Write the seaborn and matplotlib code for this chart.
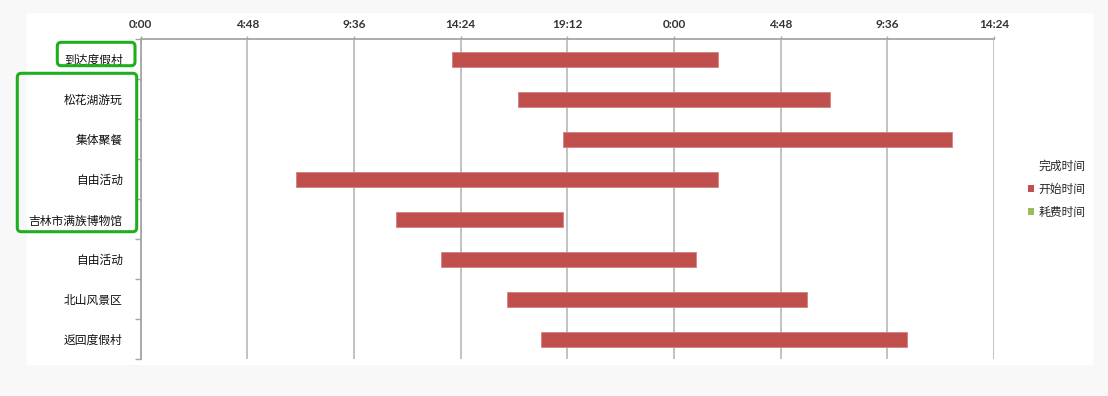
import matplotlib
matplotlib.use("Agg")
import matplotlib.pyplot as plt
import matplotlib.transforms as mtransforms
from matplotlib.patches import Patch, FancyBboxPatch, Rectangle
import seaborn as sns
import numpy as np

# ---- data (hours from 0:00 of day 1) ----
tasks = ["到达度假村", "松花湖游玩", "集体聚餐", "自由活动",
         "吉林市满族博物馆", "自由活动", "北山风景区", "返回度假村"]
start_hours = [14.0, 17.0, 19.0, 7.0, 11.5, 13.5, 16.5, 18.0]
duration_hours = [12.0, 14.0, 17.5, 19.0, 7.5, 11.5, 13.5, 16.5]
tick_hours = [0, 4.8, 9.6, 14.4, 19.2, 24.0, 28.8, 33.6, 38.4]
tick_labels = ["0:00", "4:48", "9:36", "14:24", "19:12", "0:00", "4:48", "9:36", "14:24"]
legend_title = "完成时间"
legend_labels = ["开始时间", "耗费时间"]

RED = "#C0504D"
GREEN = "#9BBB59"
GRID = "#bdbdbd"
AXC = "#a6a6a6"

sns.set_theme(style="white")
plt.rcParams["font.family"] = ["Noto Sans CJK SC", "DejaVu Sans"]

W, H = 1108, 396
fig = plt.figure(figsize=(W / 100, H / 100), dpi=100, facecolor="#f8f8f8")
bg = Rectangle((27 / W, 1 - 365 / H), 1066 / W, 352 / H,
               transform=fig.transFigure, facecolor="white",
               edgecolor="none", zorder=-10)
fig.patches.append(bg)

ax = fig.add_axes([140.7 / W, 1 - 359.3 / H, (994 - 140.7) / W, (359.3 - 39.3) / H])
ax.set_facecolor("white")
ax.set_zorder(1)

ypos = np.arange(len(tasks))
ax.barh(ypos, duration_hours, left=start_hours, height=0.39, color=RED,
        edgecolor="#d4817f", linewidth=0.6, zorder=3)

ax.set_xlim(tick_hours[0], tick_hours[-1])
ax.set_ylim(len(tasks) - 0.5, -0.5)
ax.set_xticks(tick_hours)
ax.set_xticklabels(tick_labels)
ax.xaxis.tick_top()
ax.grid(axis="x", color=GRID, lw=1.3)
ax.grid(axis="y", visible=False)
ax.set_axisbelow(True)

ax.set_yticks(ypos)
ax.set_yticklabels(tasks)
ax.set_yticks(np.arange(len(tasks) + 1) - 0.5, minor=True)
ax.tick_params(axis="y", which="major", left=False, length=0, pad=13,
               labelsize=8.5, labelcolor="#111111")
ax.tick_params(axis="y", which="minor", left=True, length=4, width=1,
               color=AXC, direction="out")
ax.tick_params(axis="x", which="major", top=True, bottom=False, length=2,
               width=1, color=AXC, direction="out", pad=4.5, labelsize=8.5,
               labelcolor="#333333")
for lbl in ax.get_xticklabels():
    lbl.set_fontfamily(["Lato", "DejaVu Sans"])
    lbl.set_fontweight("bold")

for side in ["right", "bottom"]:
    ax.spines[side].set_visible(False)
for side in ["top", "left"]:
    ax.spines[side].set_color(AXC)
    ax.spines[side].set_linewidth(1.3)

handles = [Patch(facecolor=RED, edgecolor="none"),
           Patch(facecolor=GREEN, edgecolor="none")]
fig.legend(handles, legend_labels, title=legend_title, loc="center left",
           bbox_to_anchor=(1028 / W, 1 - 189 / H), frameon=False,
           fontsize=8.5, title_fontsize=8.5, handlelength=0.55,
           handleheight=0.55, handletextpad=0.35, labelspacing=0.85,
           alignment="right", borderaxespad=0, borderpad=0)

# green highlight boxes (pixel coordinates)
ident = mtransforms.IdentityTransform()
boxes = [(57.3, 42.3, 135.0, 65.7), (17.3, 73.3, 136.7, 231.7)]
for x0, y0, x1, y1 in boxes:
    fig.patches.append(FancyBboxPatch((x0, H - y1), x1 - x0, y1 - y0,
                                      boxstyle="round,pad=0,rounding_size=4",
                                      transform=ident, fill=False,
                                      edgecolor="#1fae1f", linewidth=2.2,
                                      zorder=5))

fig.savefig("out.png", dpi=100, facecolor=fig.get_facecolor())
